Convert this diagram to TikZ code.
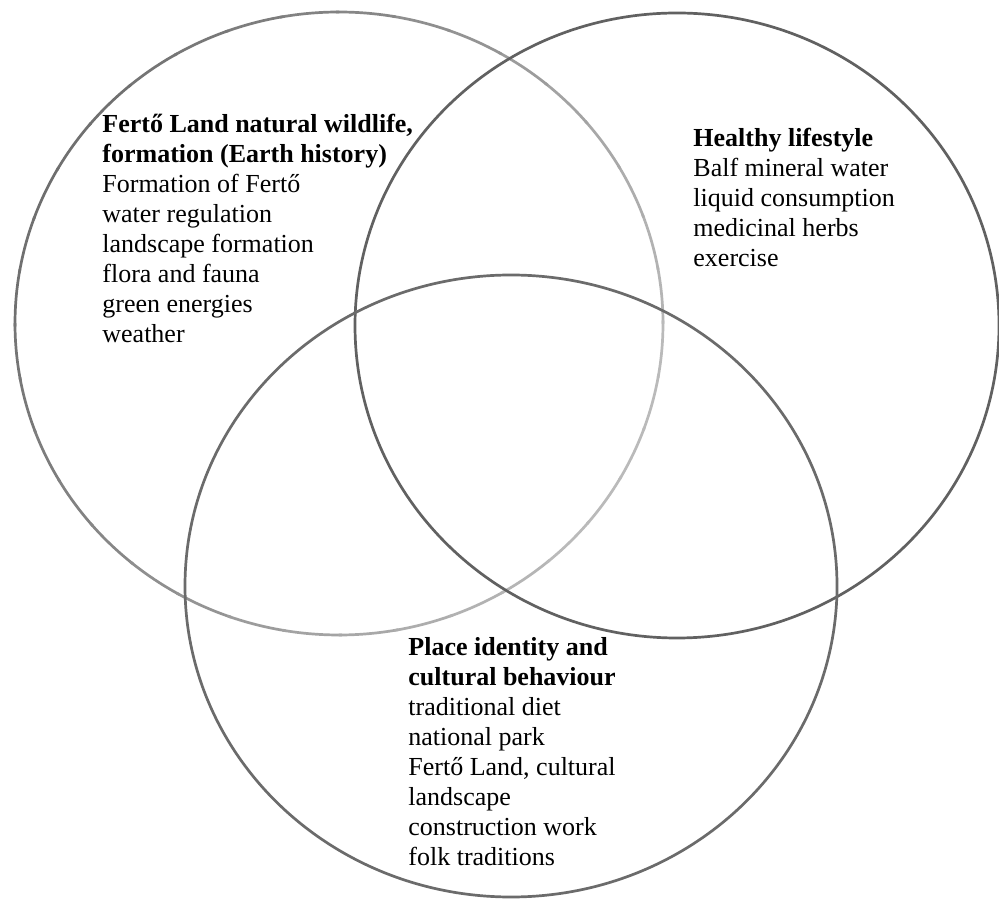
\documentclass[tikz,border=0pt]{standalone}
\usepackage{fontspec}
\setmainfont{Liberation Serif}
\begin{document}
\begin{tikzpicture}[x=0.5pt,y=0.5pt,line cap=round,line join=round,
  ring/.style={line width=1.35pt},
  topic/.style={anchor=base west,inner sep=0pt,align=left,
    font=\fontsize{13}{15}\selectfont}]
  \useasboundingbox[fill=white] (0,0) rectangle (999,899);
  % left circle, fading to light grey on its right side
  \foreach \a in {0,10,...,350} {
    \pgfmathtruncatemacro{\k}{42+15*cos(\a-150)}
    \draw[ring,draw=black!\k] ({339+324*cos(\a)},{575.5+311.5*sin(\a)})
      arc[start angle=\a,end angle=\a+10.5,x radius=324,y radius=311.5];
  }
  \draw[ring,draw=black!62] (677,573.5) ellipse [x radius=322,y radius=312.5];
  \draw[ring,draw=black!58] (511,313) ellipse [x radius=326,y radius=311];
  % base anchor sits on the last line
  \node[topic] (nature) at (102,556) {\textbf{Fertő Land natural wildlife,}\\
    \textbf{formation (Earth history)}\\Formation of Fertő\\water regulation\\
    landscape formation\\flora and fauna\\green energies\\weather};
  \node[topic] (health) at (693,632) {\textbf{Healthy lifestyle}\\
    Balf mineral water\\liquid consumption\\medicinal herbs\\exercise};
  \node[topic] (place) at (408,34) {\textbf{Place identity and}\\
    \textbf{cultural behaviour}\\traditional diet\\national park\\
    Fertő Land, cultural\\landscape\\construction work\\folk traditions};
\end{tikzpicture}
\end{document}
